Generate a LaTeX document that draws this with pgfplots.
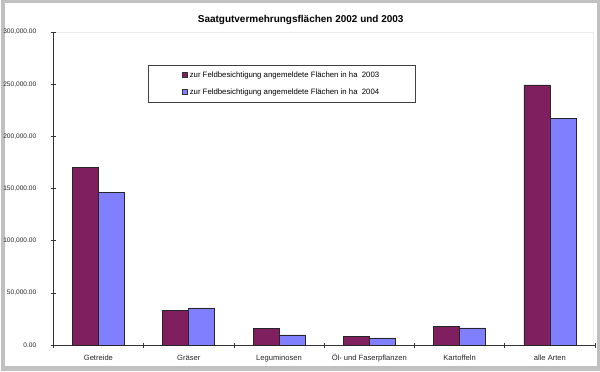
\documentclass[border=0pt]{standalone}
\usepackage{pgfplots}
\pgfplotsset{compat=1.18}
\usepackage{fontspec}
\setmainfont{Liberation Sans}
\definecolor{plum}{HTML}{7F1F5F}
\definecolor{peri}{HTML}{8080FF}
\definecolor{framegray}{HTML}{C0C0C0}
\begin{document}
\begin{tikzpicture}
\fill[framegray] (-52pt,-26pt) rectangle (548pt,346pt);
\fill[white] (-48pt,-20.7pt) rectangle (545pt,343pt);
\draw[black!8] (0pt,0pt) rectangle (541pt,314pt);
\node[font=\bfseries\fontsize{10}{11}\selectfont] at (248pt,326pt) {Saatgutvermehrungsflächen 2002 und 2003};
\begin{axis}[
  scale only axis, width=543pt, height=314pt,
  at={(0pt,0pt)}, anchor=south west,
  xmin=-0.5, xmax=5.5, ymin=0, ymax=300000,
  axis x line*=bottom, axis y line*=left,
  axis line style={black!80, line width=0.6pt},
  ybar=0pt, bar width=26pt,
  xtick={-0.5,0.5,1.5,2.5,3.5,4.5,5.5},
  x tick label as interval,
  xticklabels={Getreide,Gräser,Leguminosen,Öl- und Faserpflanzen,Kartoffeln,alle Arten},
  ytick={0,50000,100000,150000,200000,250000,300000},
  scaled y ticks=false,
  xticklabel style={font=\fontsize{7.6}{9}\selectfont, text=black!85, text height=6pt, text depth=1.6pt, yshift=-3pt},
  yticklabel style={font=\fontsize{6.6}{8}\selectfont, text=black!85, xshift=-11pt,
    /pgf/number format/.cd, fixed, fixed zerofill, precision=2, 1000 sep={,}, assume math mode=true},
  tick align=center, major tick length=5pt,
  tick style={black!80, line width=0.6pt},
  legend image code/.code={\draw[#1,draw=black!80] (0pt,-2.5pt) rectangle (5pt,2.5pt);},
  legend style={at={(rel axis cs:0.175,0.895)}, anchor=north west, draw=black!75,
    font=\fontsize{7.8}{9}\selectfont, inner xsep=34pt, inner ysep=4.5pt, row sep=6pt,
    cells={anchor=west}},
]
\addplot[fill=plum, draw=black!85, line width=0.6pt] coordinates {(0,170000) (1,33400) (2,16000) (3,8600) (4,18200) (5,249300)};
\addplot[fill=peri, draw=black!85, line width=0.6pt] coordinates {(0,146500) (1,35700) (2,9900) (3,7000) (4,16600) (5,217500)};
\legend{zur Feldbesichtigung angemeldete Flächen in ha~~2003, zur Feldbesichtigung angemeldete Flächen in ha~~2004}
\end{axis}
\end{tikzpicture}
\end{document}
